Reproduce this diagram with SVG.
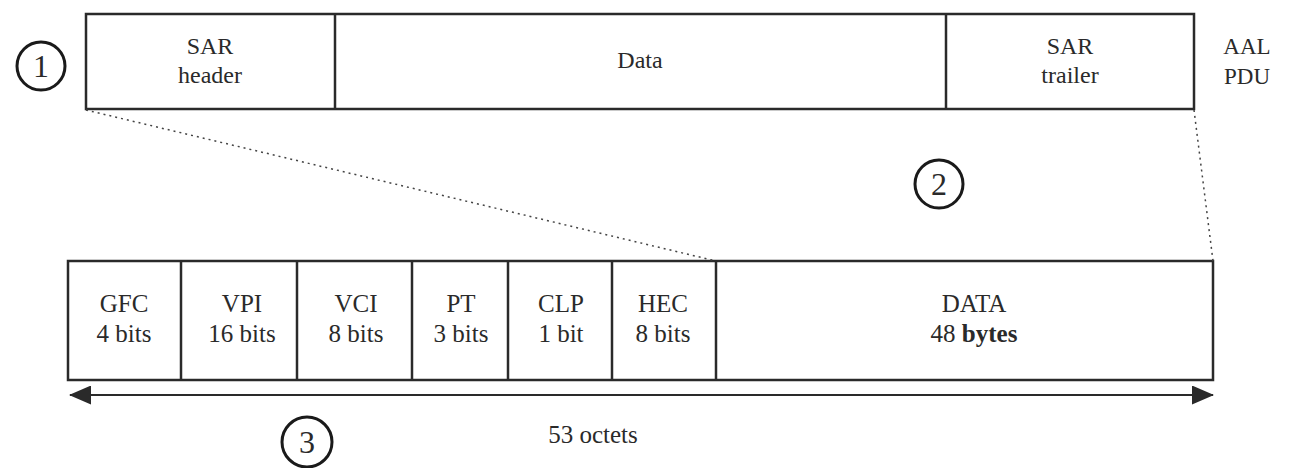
<svg xmlns="http://www.w3.org/2000/svg" width="1290" height="468" viewBox="0 0 1290 468">
<style>
.box{fill:#fff;stroke:#2a2a2a;stroke-width:2.5}
.div{stroke:#2a2a2a;stroke-width:2.5}
.t{font-family:"Liberation Serif","Times New Roman",serif;font-size:25px;fill:#2a2a2a;text-anchor:middle}
.top{font-size:24px}
.side{font-size:23px}
.num{font-size:32px}
.circ{fill:none;stroke:#1a1a1a;stroke-width:3}
.dot{stroke:#444;stroke-width:1.5;stroke-dasharray:2 4;fill:none}
</style>
<defs>
<marker id="ah" markerWidth="22" markerHeight="19" refX="21" refY="9.5" orient="auto-start-reverse" markerUnits="userSpaceOnUse" viewBox="0 0 22 19">
<path d="M0,0 L22,9.5 L0,19 Z" fill="#2a2a2a"/>
</marker>
</defs>
<rect width="1290" height="468" fill="#fff"/>

<g id="aal-pdu">
<rect class="box" x="86" y="14" width="1108" height="95"/>
<line class="div" x1="335" y1="14" x2="335" y2="109"/>
<line class="div" x1="946" y1="14" x2="946" y2="109"/>
<text class="t top" x="210" y="54">SAR</text>
<text class="t top" x="210" y="83">header</text>
<text class="t top" x="640" y="68">Data</text>
<text class="t top" x="1070" y="54">SAR</text>
<text class="t top" x="1070" y="83">trailer</text>
<text class="t side" x="1247" y="54">AAL</text>
<text class="t side" x="1247" y="84">PDU</text>
</g>

<g id="cell">
<rect class="box" x="68" y="261" width="1145" height="119"/>
<line class="div" x1="181" y1="261" x2="181" y2="380"/>
<line class="div" x1="297" y1="261" x2="297" y2="380"/>
<line class="div" x1="412" y1="261" x2="412" y2="380"/>
<line class="div" x1="508" y1="261" x2="508" y2="380"/>
<line class="div" x1="612" y1="261" x2="612" y2="380"/>
<line class="div" x1="716" y1="261" x2="716" y2="380"/>
<text class="t" x="124" y="312">GFC</text>
<text class="t" x="124" y="342">4 bits</text>
<text class="t" x="242" y="312">VPI</text>
<text class="t" x="242" y="342">16 bits</text>
<text class="t" x="356" y="312">VCI</text>
<text class="t" x="356" y="342">8 bits</text>
<text class="t" x="461" y="312">PT</text>
<text class="t" x="461" y="342">3 bits</text>
<text class="t" x="561" y="312">CLP</text>
<text class="t" x="561" y="342">1 bit</text>
<text class="t" x="663" y="312">HEC</text>
<text class="t" x="663" y="342">8 bits</text>
<text class="t" x="974" y="312">DATA</text>
<text class="t" x="974" y="342"><tspan>48 </tspan><tspan font-weight="bold">bytes</tspan></text>
</g>

<g id="markers">
<circle class="circ" cx="41" cy="66" r="24"/>
<text class="t num" x="41" y="77">1</text>
<circle class="circ" cx="939" cy="184" r="24"/>
<text class="t num" x="939" y="195">2</text>
<circle class="circ" cx="307" cy="442" r="25"/>
<text class="t num" x="307" y="453">3</text>
<text class="t" x="593" y="443">53 octets</text>
</g>

<g id="connectors">
<line class="dot" x1="86" y1="110" x2="716" y2="261"/>
<line class="dot" x1="1194" y1="110" x2="1213" y2="261"/>
<line x1="70" y1="395" x2="1213" y2="395" stroke="#2a2a2a" stroke-width="2" marker-start="url(#ah)" marker-end="url(#ah)"/>
</g>
</svg>
